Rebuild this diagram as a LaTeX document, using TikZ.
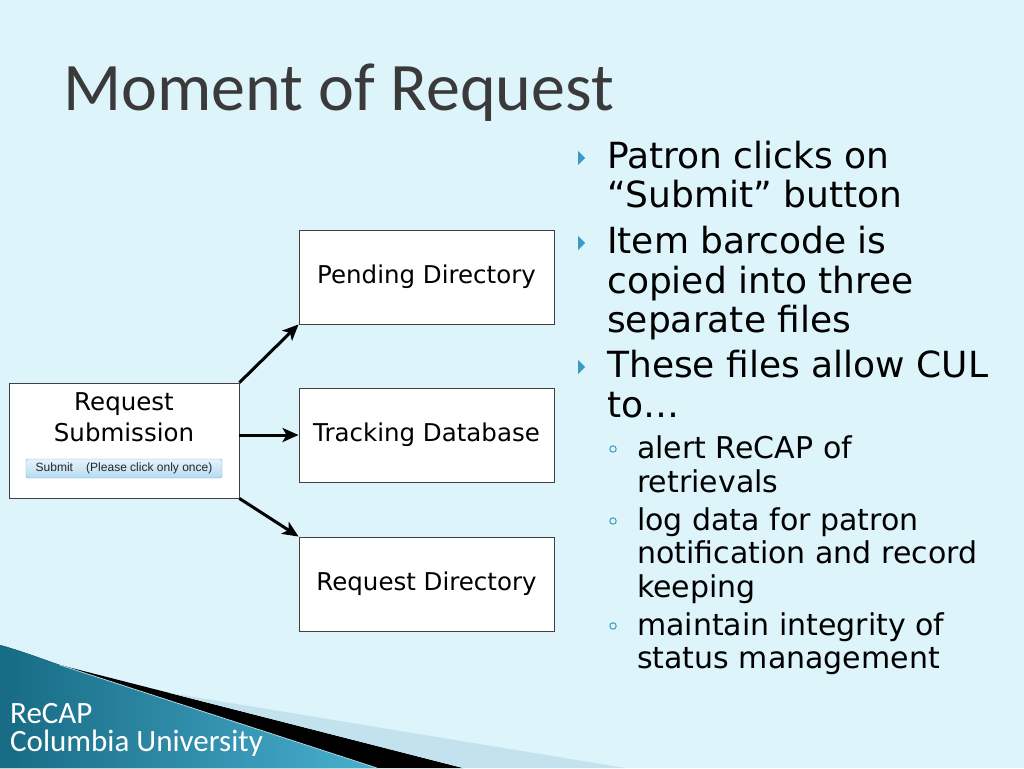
\documentclass[tikz,border=0pt]{standalone}
\usepackage{fontspec}
\setmainfont{DejaVu Sans}
\newfontfamily\titlefont{Carlito}
\newfontfamily\buttonfont{Liberation Sans}
\usetikzlibrary{arrows.meta, positioning, shapes}

\definecolor{slidebg}{HTML}{DDF4FA}
\definecolor{bulletteal}{HTML}{3A9BC1}
\definecolor{titlegray}{HTML}{3A3A3A}
\definecolor{darkteal}{HTML}{176B84}
\definecolor{lightteal}{HTML}{49AFCF}
\definecolor{paleband}{HTML}{C2E2EE}
\definecolor{btntop}{HTML}{E6F4FC}
\definecolor{btnbottom}{HTML}{B5DBF0}
\definecolor{btnedge}{HTML}{7FA8C6}

\tikzset{
    filebox/.style={draw=black!75, fill=white, line width=0.9pt, minimum width=255pt,
        minimum height=94pt, inner sep=0pt, font=\fontsize{24.5}{31}\selectfont},
    flowarrow/.style={line width=3pt, -{Stealth[length=16pt, width=14pt, inset=4pt]}},
    mainline/.style={anchor=base west, inner sep=0pt, font=\fontsize{36}{39}\selectfont},
    subline/.style={anchor=base west, inner sep=0pt, font=\fontsize{30}{33}\selectfont},
    footline/.style={anchor=base west, inner sep=0pt, text=white, font=\titlefont\fontsize{31}{32}\selectfont},
}

\begin{document}
\begin{tikzpicture}[x=1pt, y=-1pt]

            \useasboundingbox (0,0) rectangle (1024,768);
            \fill[slidebg] (0,0) rectangle (1024,768);

            % corner swoosh
            \fill[left color=darkteal, right color=lightteal]
                (0,645) .. controls (25,652) and (45,660) .. (60,665) -- (377,768) -- (0,768) -- cycle;
            \fill[black] (60,665) -- (463,768) -- (377,768) -- cycle;
            \fill[paleband] (170,693) -- (625,768) -- (463,768) -- cycle;
            \draw[white!55!lightteal, line width=0.8pt] (60,665) -- (377,768);

            \node[footline] (recap) at (10,723) {ReCAP};
            \node[footline] (cu) at (10,751) {Columbia University};

            % title
            \node[anchor=base west, inner sep=0pt, text=titlegray,
                font=\titlefont\fontsize{68}{70}\selectfont] (title) at (63,110) {Moment of Request};

            % flow
            \node[draw=black!75, fill=white, line width=0.9pt, minimum width=230pt,
                minimum height=115pt, inner sep=0pt] (reqsub) at (124,440.5) {};
            \node[anchor=north, align=center, inner sep=0pt,
                font=\fontsize{24.5}{31}\selectfont] (reqlbl) at (124,392) {Request\\Submission};
            \node[draw=btnedge, rounded corners=2pt, top color=btntop, bottom color=btnbottom,
                minimum width=196pt, minimum height=19pt, inner sep=0pt, text=black!85,
                font=\buttonfont\fontsize{12}{14}\selectfont] (btn) at (124,468.5)
                {Submit\hspace{1.1em}(Please click only once)};

            \node[filebox] (pending) at (426.5,277) {Pending Directory};
            \node[filebox] (tracking) at (426.5,435) {Tracking Database};
            \node[filebox] (reqdir) at (426.5,584) {Request Directory};

            \draw[flowarrow] (reqsub.north east) -- (pending.south west);
            \draw[flowarrow] (reqsub.east |- tracking.west) -- (tracking.west);
            \draw[flowarrow] (reqsub.south east) -- (reqdir.north west);

            % bullets
            \foreach \yb/\txt [count=\i] in {168/Patron clicks on, 207/“Submit” button,
                253/Item barcode is, 293/copied into three, 332/separate files,
                377/These files allow CUL, 417/to…}{
                \node[mainline] (main\i) at (607,\yb) {\txt};
            }
            \foreach \yb in {168, 253, 377}{
                \fill[bulletteal] (578,\yb-17) -- (585,\yb-10) -- (578,\yb-3) -- cycle;
            }

            \foreach \yb/\txt [count=\i] in {458/alert ReCAP of, 492/retrievals,
                530/log data for patron, 563/notification and record, 597/keeping,
                635/maintain integrity of, 668/status management}{
                \node[subline] (sub\i) at (637,\yb) {\txt};
            }
            \foreach \yb in {458, 530, 635}{
                \draw[bulletteal, line width=1pt] (613,\yb-9) circle (3.2);
            }

        \end{tikzpicture}
\end{document}
